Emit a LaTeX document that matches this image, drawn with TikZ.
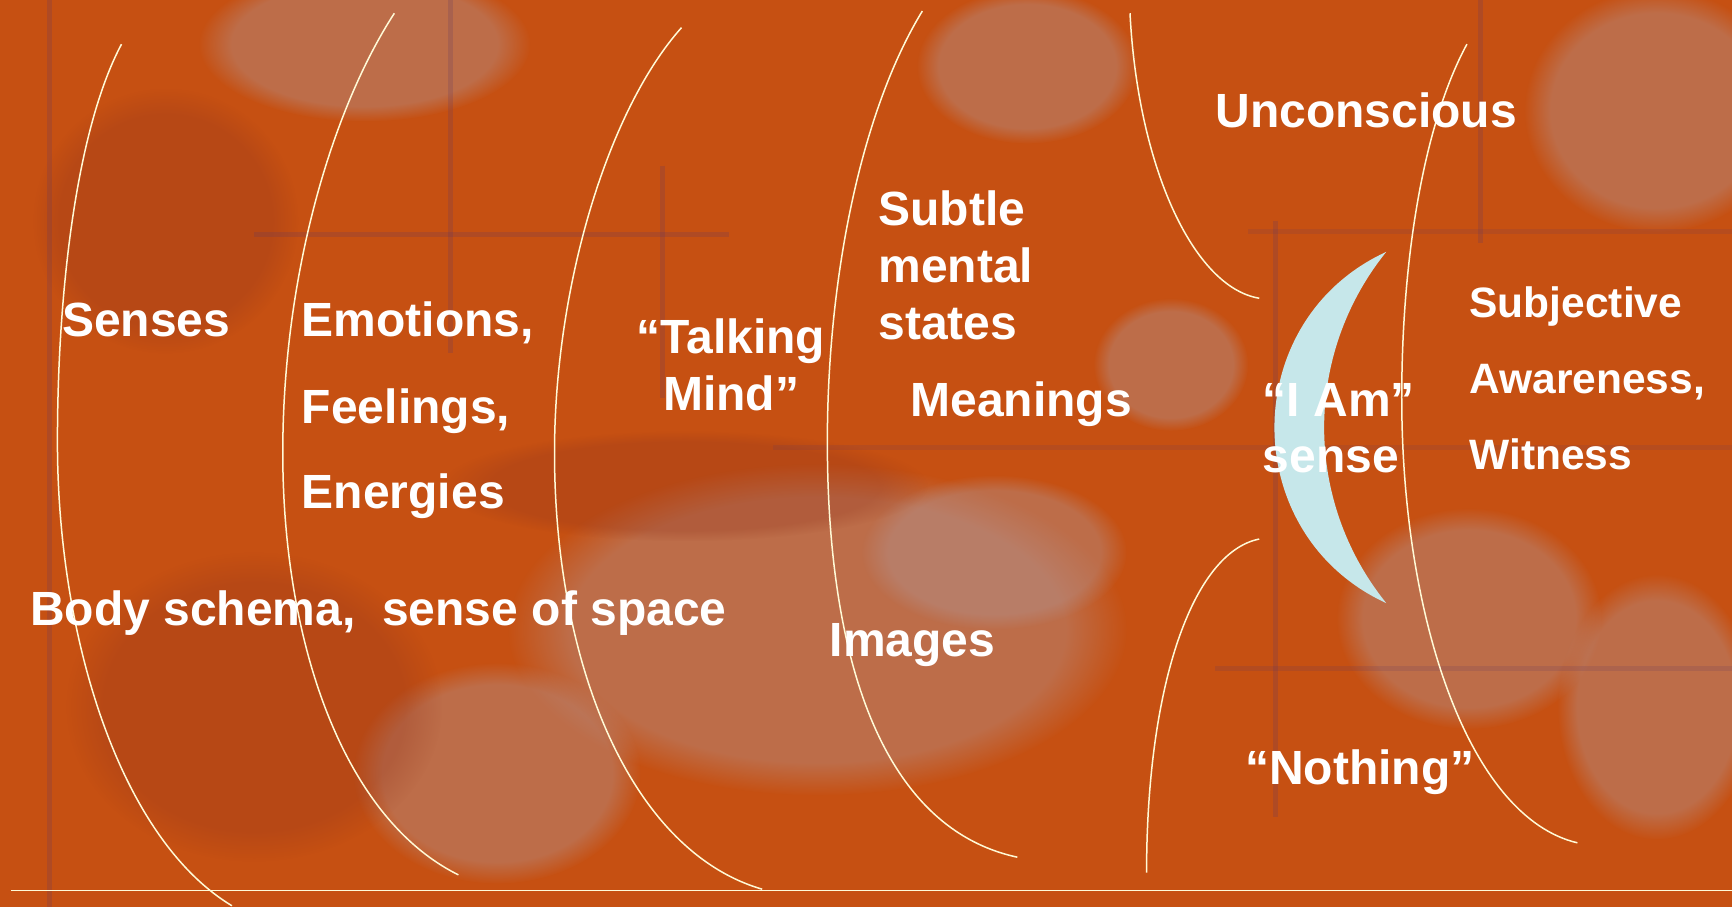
\documentclass[tikz,border=0pt]{standalone}
\usepackage{fontspec}
\setmainfont{Liberation Sans}
\usetikzlibrary{fadings}
\definecolor{rust}{RGB}{198,80,18}
\definecolor{rustdark}{RGB}{150,55,30}
\definecolor{greypatch}{RGB}{180,145,140}
\definecolor{purp}{RGB}{95,55,100}
\definecolor{arccol}{RGB}{255,250,215}
\definecolor{moon}{RGB}{198,231,234}
\begin{document}
\begin{tikzpicture}[x=0.5523pt,y=-0.5523pt,
  arcline/.style={draw=arccol, line width=0.75pt},
  lbl/.style={text=white, font=\fontsize{24}{28}\selectfont\bfseries, anchor=base west, inner sep=0pt},
  lblsm/.style={lbl, font=\fontsize{21.25}{25}\selectfont\bfseries},
  patch/.style={fill=greypatch, opacity=0.45, path fading=circle with fuzzy edge 20 percent},
  darkpatch/.style={fill=rustdark, opacity=0.3, path fading=circle with fuzzy edge 20 percent},
  stripe/.style={draw=purp, opacity=0.22, line width=2.5pt}]
\useasboundingbox (0,0) rectangle (1568,821);
% background
\fill[rust] (0,0) rectangle (1568,821);
% texture patches
\fill[patch] (330,40) ellipse [x radius=150, y radius=70];
\fill[patch] (930,60) ellipse [x radius=100, y radius=70];
\fill[patch] (1500,100) ellipse [x radius=120, y radius=110];
\fill[patch] (740,570) ellipse [x radius=280, y radius=150];
\fill[patch] (900,500) ellipse [x radius=120, y radius=70];
\fill[patch] (450,700) ellipse [x radius=130, y radius=100];
\fill[patch] (1330,560) ellipse [x radius=120, y radius=100];
\fill[patch] (1500,640) ellipse [x radius=90, y radius=120];
\fill[patch] (1060,330) ellipse [x radius=70, y radius=60];
\fill[darkpatch] (620,440) ellipse [x radius=220, y radius=50];
\fill[darkpatch] (230,640) ellipse [x radius=170, y radius=140];
\fill[darkpatch] (150,200) ellipse [x radius=120, y radius=120];
\draw[stripe] (230,212) -- (660,212);
\draw[stripe] (408,0) -- (408,320);
\draw[stripe] (600,150) -- (600,360);
\draw[stripe] (45,0) -- (45,821);
\draw[stripe] (1155,200) -- (1155,740);
\draw[stripe] (1340,0) -- (1340,220);
\draw[stripe, opacity=0.15] (700,405) -- (1568,405);
\draw[stripe, opacity=0.18] (1100,605) -- (1568,605);
\draw[stripe, opacity=0.15] (1130,210) -- (1568,210);
% arcs
\draw[arcline] (110,40) .. controls (70,115) and (52,260) .. (52,400)
  .. controls (52,580) and (110,760) .. (210,820);
\draw[arcline] (357,12) .. controls (300,100) and (256,250) .. (256,410)
  .. controls (256,580) and (310,740) .. (415,792);
\draw[arcline] (617,25) .. controls (550,100) and (502,260) .. (502,410)
  .. controls (502,600) and (570,770) .. (690,805);
\draw[arcline] (835,10) .. controls (780,100) and (749,250) .. (749,400)
  .. controls (749,600) and (800,750) .. (921,776);
\draw[arcline] (1023,12) .. controls (1030,150) and (1080,260) .. (1140,270);
\draw[arcline] (1140,488) .. controls (1080,500) and (1038,620) .. (1038,790);
\draw[arcline] (1328,40) .. controls (1290,110) and (1269,230) .. (1269,360)
  .. controls (1269,560) and (1330,740) .. (1428,763);
\draw[arcline] (10,806) -- (1568,806);
% crescent
\fill[moon] (1255,228) .. controls (1120,290) and (1120,484) .. (1255,546)
  .. controls (1180,453) and (1180,321) .. (1255,228) -- cycle;
% labels
\node[lbl] (senses) at (56,305) {Senses};
\node[lbl] (emo) at (273,305) {Emotions,};
\node[lbl] (feel) at (273,383) {Feelings,};
\node[lbl] (energ) at (273,460) {Energies};
\node[lbl] (talk) at (576,320) {“Talking};
\node[lbl] (mind) at (600,372) {Mind”};
\node[lbl] (subtle) at (795,204) {Subtle};
\node[lbl] (mental) at (795,256) {mental};
\node[lbl] (states) at (795,307) {states};
\node[lbl] (mean) at (824,377) {Meanings};
\node[lbl] (uncon) at (1100,115) {Unconscious};
\node[lbl] (iam) at (1143,377) {“I Am”};
\node[lbl] (sense) at (1143,428) {sense};
\node[lblsm] (subj) at (1330,287) {Subjective};
\node[lblsm] (aware) at (1330,356) {Awareness,};
\node[lblsm] (witn) at (1330,425) {Witness};
\node[lbl] (body) at (27,566) {Body schema,\ \ sense of space};
\node[lbl] (images) at (751,594) {Images};
\node[lbl] (nothing) at (1127,710) {“Nothing”};
\end{tikzpicture}
\end{document}
